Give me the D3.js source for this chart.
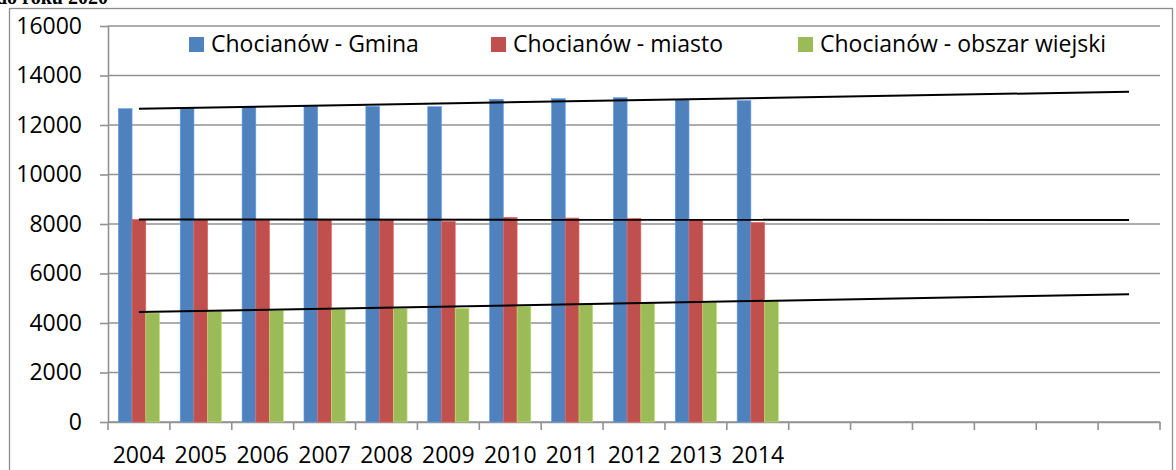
<!DOCTYPE html>
<html>
<head>
<meta charset="utf-8">
<script src="https://cdn.jsdelivr.net/npm/d3@7"></script>
<style>
  body { margin: 0; background: #fff; }
  svg { display: block; }
  text { font-family: "Open Sans", sans-serif; fill: #000; }
</style>
</head>
<body>
<svg id="chart" width="1176" height="470"></svg>
<script>
// Chart slots (the axis runs on to 2020, only 2004-2014 have data)
var years = ["2004", "2005", "2006", "2007", "2008", "2009", "2010", "2011", "2012", "2013", "2014",
             "2015", "2016", "2017", "2018", "2019", "2020"];
var tickLabels = ["2004", "2005", "2006", "2007", "2008", "2009", "2010", "2011", "2012", "2013", "2014"];
var yTicks = [0, 2000, 4000, 6000, 8000, 10000, 12000, 14000, 16000];

var seriesNames = ["Chocianów - Gmina", "Chocianów - miasto", "Chocianów - obszar wiejski"];
var gmina   = [12660, 12680, 12727, 12754, 12754, 12740, 13038, 13064, 13105, 13024, 12983];
var miasto  = [8188, 8175, 8162, 8175, 8162, 8108, 8270, 8242, 8229, 8175, 8067];
var wiejski = [4404, 4458, 4498, 4552, 4579, 4593, 4674, 4741, 4781, 4821, 4875];

// linear trend lines, value at 2004 and at 2020
var trendYears = ["2004", "2020"];
var trendGmina   = [12660, 13346];
var trendMiasto  = [8182, 8164];
var trendWiejski = [4444, 5158];

var colors = ["#4f81bd", "#c0504d", "#9bbb59"];

var svg = d3.select("#chart");

// Define scales
var x = d3.scaleBand().domain(years).range([108, 1160]).padding(0);
var xInner = d3.scaleBand().domain(d3.range(3)).range([0, x.bandwidth()])
  .paddingInner(0).paddingOuter(0.75);
var y = d3.scaleLinear().domain([0, 16000]).range([422, 26]);

// title cut off at the top of the picture
svg.append("text")
  .attr("x", -4)
  .attr("y", 4)
  .style("font-family", "'Liberation Serif', serif")
  .style("font-weight", "bold")
  .style("font-size", "20px")
  .text("do roku 2020");

// outer chart border
svg.append("rect")
  .attr("x", 9.5).attr("y", 8.5)
  .attr("width", 1163).attr("height", 480)
  .attr("fill", "none")
  .attr("stroke", "#8c8c8c")
  .attr("stroke-width", 1.3);

// gridlines
svg.append("g")
  .selectAll("line")
  .data(yTicks)
  .enter()
  .append("line")
  .attr("x1", 108).attr("x2", 1160)
  .attr("y1", function(d) { return y(d); })
  .attr("y2", function(d) { return y(d); })
  .attr("stroke", "#929292")
  .attr("stroke-width", 1.6);

// y axis
var yAxis = d3.axisLeft(y).tickValues(yTicks).tickFormat(d3.format("d"))
  .tickSize(8).tickSizeOuter(0).tickPadding(18);
var gy = svg.append("g")
  .attr("transform", "translate(108,0)")
  .call(yAxis);
gy.select(".domain").attr("stroke", "#929292").attr("stroke-width", 1.6);
gy.selectAll(".tick line").attr("stroke", "#929292").attr("stroke-width", 1.6);
gy.selectAll("text").style("font-size", "23px").style("font-family", "'Open Sans', sans-serif");

// x axis: labels at category centres, tick marks between categories
var xAxis = d3.axisBottom(x).tickSize(0).tickSizeOuter(0).tickPadding(25)
  .tickFormat(function(d) { return tickLabels.indexOf(d) >= 0 ? d : ""; });
var gx = svg.append("g")
  .attr("transform", "translate(0,422)")
  .call(xAxis);
gx.select(".domain").attr("stroke", "#929292").attr("stroke-width", 1.6);
gx.selectAll("text").style("font-size", "23px").style("font-family", "'Open Sans', sans-serif");

var boundaries = years.map(function(d) { return x(d); }).concat([x.range()[1]]);
svg.append("g")
  .selectAll("line")
  .data(boundaries)
  .enter()
  .append("line")
  .attr("x1", function(d) { return d; })
  .attr("x2", function(d) { return d; })
  .attr("y1", 422).attr("y2", 430)
  .attr("stroke", "#929292")
  .attr("stroke-width", 1.6);

// bars
var series = [gmina, miasto, wiejski];
var bars = svg.append("g");
series.forEach(function(values, si) {
  bars.selectAll(".bar-" + si)
    .data(values)
    .enter()
    .append("rect")
    .attr("class", "bar-" + si)
    .attr("x", function(d, i) { return x(tickLabels[i]) + xInner(si); })
    .attr("y", function(d) { return y(d); })
    .attr("width", xInner.bandwidth())
    .attr("height", function(d) { return y(0) - y(d); })
    .attr("fill", colors[si])
    .attr("stroke", d3.color(colors[si]).brighter(0.6))
    .attr("stroke-width", 0.6);
});

// trend lines
var line = d3.line()
  .x(function(d, i) { return x(trendYears[i]) + x.bandwidth() / 2; })
  .y(function(d) { return y(d); });

svg.append("g")
  .selectAll("path")
  .data([trendGmina, trendMiasto, trendWiejski])
  .enter()
  .append("path")
  .attr("d", function(d) { return line(d); })
  .attr("fill", "none")
  .attr("stroke", "#000")
  .attr("stroke-width", 2);

// legend
var legendX = [189, 491, 798];
var legend = svg.append("g")
  .selectAll("g")
  .data(seriesNames)
  .enter()
  .append("g")
  .attr("transform", function(d, i) { return "translate(" + legendX[i] + ",37)"; });

legend.append("rect")
  .attr("width", 15).attr("height", 15)
  .attr("fill", function(d, i) { return colors[i]; });

legend.append("text")
  .attr("x", 22)
  .attr("y", 15)
  .style("font-size", "23px")
  .text(function(d) { return d; });
</script>
</body>
</html>
